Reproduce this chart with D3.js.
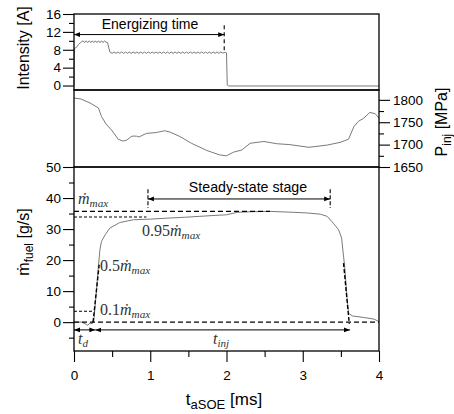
<!DOCTYPE html>
<html>
<head>
<meta charset="utf-8">
<script src="https://cdn.jsdelivr.net/npm/d3@7"></script>
<style>
  body { margin: 0; background: #fff; }
  svg text { font-family: "Liberation Sans", Arial, sans-serif; fill: #000; }
  .trace { fill: none; stroke: #7a7a7a; stroke-width: 1; }
  .frame { fill: none; stroke: #000; stroke-width: 1.3; }
  .math { font-family: "Liberation Serif", "DejaVu Serif", serif !important; fill: #333 !important; }
</style>
</head>
<body>
<script>
// ---- data ----
var xTicks = [0, 1, 2, 3, 4];
var xMinor = [0.5, 1.5, 2.5, 3.5];
var currentTicks = [0, 4, 8, 12, 16];
var currentMinor = [2, 6, 10, 14];
var pressureTicks = [1650, 1700, 1750, 1800];
var pressureMinor = [1675, 1725, 1775];
var flowTicks = [0, 10, 20, 30, 40, 50];
var flowMinor = [-5, 5, 15, 25, 35, 45];

// injector current [ms, A]
var current = [
  [0, 0], [0.005, 8.3], [0.03, 8.5], [0.06, 9.2], [0.10, 9.8],
  [0.12, 10.0], [0.14, 9.6], [0.16, 10.0], [0.18, 9.6], [0.20, 10.0], [0.22, 9.6],
  [0.24, 10.0], [0.26, 9.6], [0.28, 10.0], [0.30, 9.6], [0.32, 10.0], [0.34, 9.6],
  [0.36, 10.0], [0.38, 9.6], [0.40, 10.0], [0.42, 9.7], [0.44, 9.6], [0.47, 7.5],
  [0.500, 7.2], [0.525, 7.5], [0.550, 7.2], [0.575, 7.5], [0.600, 7.2], [0.625, 7.5],
  [0.650, 7.2], [0.675, 7.5], [0.700, 7.2], [0.725, 7.5], [0.750, 7.2], [0.775, 7.5],
  [0.800, 7.2], [0.825, 7.5], [0.850, 7.2], [0.875, 7.5], [0.900, 7.2], [0.925, 7.5],
  [0.950, 7.2], [0.975, 7.5], [1.000, 7.2], [1.025, 7.5], [1.050, 7.2], [1.075, 7.5],
  [1.100, 7.2], [1.125, 7.5], [1.150, 7.2], [1.175, 7.5], [1.200, 7.2], [1.225, 7.5],
  [1.250, 7.2], [1.275, 7.5], [1.300, 7.2], [1.325, 7.5], [1.350, 7.2], [1.375, 7.5],
  [1.400, 7.2], [1.425, 7.5], [1.450, 7.2], [1.475, 7.5], [1.500, 7.2], [1.525, 7.5],
  [1.550, 7.2], [1.575, 7.5], [1.600, 7.2], [1.625, 7.5], [1.650, 7.2], [1.675, 7.5],
  [1.700, 7.2], [1.725, 7.5], [1.750, 7.2], [1.775, 7.5], [1.800, 7.2], [1.825, 7.5],
  [1.850, 7.2], [1.875, 7.5], [1.900, 7.2], [1.925, 7.5], [1.950, 7.3], [1.990, 7.4],
  [2.000, 7.3], [2.010, 0.1], [2.030, -0.1], [4.0, -0.1]
];

// rail pressure [ms, MPa]
var pressure = [
  [0, 1804], [0.09, 1802], [0.21, 1793], [0.32, 1782], [0.36, 1763], [0.42, 1746],
  [0.49, 1733], [0.58, 1712], [0.64, 1708], [0.69, 1710], [0.76, 1719], [0.82, 1719],
  [0.85, 1717], [0.95, 1725], [1.08, 1727], [1.19, 1731], [1.26, 1728], [1.39, 1718],
  [1.54, 1703], [1.74, 1687], [1.91, 1677], [2.0, 1675], [2.09, 1683], [2.2, 1688],
  [2.31, 1703], [2.49, 1707], [2.66, 1702], [2.83, 1700], [3.08, 1694], [3.32, 1699],
  [3.49, 1705], [3.6, 1712], [3.67, 1740], [3.73, 1752], [3.8, 1759], [3.88, 1772],
  [3.95, 1769], [4.0, 1759]
];

// fuel mass flow rate [ms, g/s]
var massFlow = [
  [0, 0], [0.1, 0], [0.15, -0.6], [0.18, -1], [0.21, -0.3], [0.24, -0.5], [0.26, 0.5],
  [0.28, 6], [0.30, 12], [0.32, 18], [0.34, 23.3], [0.36, 26], [0.41, 28.2],
  [0.47, 30.3], [0.6, 32.1], [0.78, 33], [1.0, 33.2], [1.21, 33.5], [1.45, 33.8],
  [1.65, 34.1], [1.85, 34.4], [2.0, 34.6], [2.14, 35.4], [2.35, 35.6], [2.57, 35.7],
  [2.88, 35.4], [3.05, 35.2], [3.23, 34.8], [3.32, 34.1], [3.4, 31.9], [3.47, 29.8],
  [3.51, 27.1], [3.53, 22.3], [3.55, 17.9], [3.58, 8], [3.6, 2.9], [3.65, 2.0],
  [3.8, 1.5], [3.93, 1.0], [4.0, 0.2]
];

var mMax = 35.7;
var m95 = 33.9;
var m10 = 3.5;
var riseFit = [[0.25, 0], [0.33, 18.5]];
var fallFit = [[3.535, 19], [3.61, -0.5]];
var energizingEnd = 1.97;
var steadyStart = 0.97, steadyEnd = 3.36;
var tdEnd = 0.28, tinjEnd = 3.62;

// ---- layout ----
var window_w = 454, window_h = 414;
var left = 74, right = 379;

var x = d3.scaleLinear().domain([0, 4]).range([left, right]);
var yI = d3.scaleLinear().domain([-1, 16]).range([90, 14]);
var yP = d3.scaleLinear().domain([1650, 1822]).range([167, 90]);
var yM = d3.scaleLinear().domain([-9.3, 50]).range([351, 167]);

var svg = d3.select("body").append("svg")
    .attr("width", window_w).attr("height", window_h);

var defs = svg.append("defs");
defs.append("marker")
    .attr("id", "arrow")
    .attr("viewBox", "0 0 10 10")
    .attr("refX", 10).attr("refY", 5)
    .attr("markerWidth", 6).attr("markerHeight", 6)
    .attr("markerUnits", "userSpaceOnUse")
    .attr("orient", "auto-start-reverse")
  .append("path")
    .attr("d", "M0,1 L10,5 L0,9 Z")
    .attr("fill", "#000");

function styleAxis(g) {
  g.select(".domain").remove();
  g.selectAll("text").attr("font-size", 13.5)
    .attr("font-family", "Liberation Sans, Arial, sans-serif");
  g.selectAll("line").attr("stroke", "#000").attr("stroke-width", 1.1);
}

var fmt = d3.format("d");

// axes
svg.append("g").attr("transform", "translate(" + left + ",0)")
    .call(d3.axisLeft(yI).tickValues(currentTicks).tickSize(11).tickPadding(2).tickFormat(fmt))
    .call(styleAxis);
svg.append("g").attr("transform", "translate(" + left + ",0)")
    .call(d3.axisLeft(yI).tickValues(currentMinor).tickSize(5).tickFormat(""))
    .call(styleAxis);

svg.append("g").attr("transform", "translate(" + right + ",0)")
    .call(d3.axisRight(yP).tickValues(pressureTicks).tickSize(11).tickPadding(3).tickFormat(fmt))
    .call(styleAxis);
svg.append("g").attr("transform", "translate(" + right + ",0)")
    .call(d3.axisRight(yP).tickValues(pressureMinor).tickSize(5).tickFormat(""))
    .call(styleAxis);

svg.append("g").attr("transform", "translate(" + left + ",0)")
    .call(d3.axisLeft(yM).tickValues(flowTicks).tickSize(11).tickPadding(2).tickFormat(fmt))
    .call(styleAxis);
svg.append("g").attr("transform", "translate(" + left + ",0)")
    .call(d3.axisLeft(yM).tickValues(flowMinor).tickSize(5).tickFormat(""))
    .call(styleAxis);

svg.append("g").attr("transform", "translate(0," + yM.range()[0] + ")")
    .call(d3.axisBottom(x).tickValues(xTicks).tickSize(11).tickPadding(8).tickFormat(fmt))
    .call(styleAxis);
svg.append("g").attr("transform", "translate(0," + yM.range()[0] + ")")
    .call(d3.axisBottom(x).tickValues(xMinor).tickSize(6).tickFormat(""))
    .call(styleAxis);

// traces
var lineI = d3.line().x(function(d){return x(d[0]);}).y(function(d){return yI(d[1]);});
var lineP = d3.line().x(function(d){return x(d[0]);}).y(function(d){return yP(d[1]);});
var lineM = d3.line().x(function(d){return x(d[0]);}).y(function(d){return yM(d[1]);});

svg.append("path").attr("class", "trace").attr("d", lineI(current));
svg.append("path").attr("class", "trace").attr("d", lineP(pressure));
svg.append("path").attr("class", "trace").attr("d", lineM(massFlow));

// frames
[[yI], [yP], [yM]].forEach(function(s) {
  var r = s[0].range();
  svg.append("rect").attr("class", "frame")
    .attr("x", left).attr("y", r[1])
    .attr("width", right - left).attr("height", r[0] - r[1]);
});

// ---- annotations: top panel ----
svg.append("line")
    .attr("x1", x(energizingEnd)).attr("x2", x(energizingEnd))
    .attr("y1", yI(13.5)).attr("y2", yI(7.4))
    .attr("stroke", "#000").attr("stroke-width", 1.1).attr("stroke-dasharray", "4,3");
svg.append("line")
    .attr("x1", x(0)).attr("x2", x(energizingEnd))
    .attr("y1", yI(11.4)).attr("y2", yI(11.4))
    .attr("stroke", "#000").attr("stroke-width", 1)
    .attr("marker-start", "url(#arrow)").attr("marker-end", "url(#arrow)");
svg.append("text").attr("x", 150).attr("y", 28.5)
    .attr("text-anchor", "middle").attr("font-size", 14)
    .text("Energizing time");

// ---- annotations: bottom panel ----
function hline(v, x0, x1, dash) {
  svg.append("line")
    .attr("x1", x(x0)).attr("x2", x(x1))
    .attr("y1", yM(v)).attr("y2", yM(v))
    .attr("stroke", "#000").attr("stroke-width", 1.1).attr("stroke-dasharray", dash);
}
hline(mMax, 0, 2.57, "5,3");
hline(m95, 0, 0.95, "3,2");
hline(m10, 0, 0.27, "3,2");
hline(0, 0, 4, "5,3");

[riseFit, fallFit].forEach(function(f) {
  svg.append("path").attr("d", lineM(f))
    .attr("fill", "none").attr("stroke", "#000")
    .attr("stroke-width", 1.4).attr("stroke-dasharray", "4,2");
});

[steadyStart, steadyEnd].forEach(function(t) {
  svg.append("line")
    .attr("x1", x(t)).attr("x2", x(t))
    .attr("y1", yM(42.8)).attr("y2", yM(36.8))
    .attr("stroke", "#000").attr("stroke-width", 1.1).attr("stroke-dasharray", "4,2");
});
svg.append("line")
    .attr("x1", x(steadyStart)).attr("x2", x(steadyEnd))
    .attr("y1", yM(39.7)).attr("y2", yM(39.7))
    .attr("stroke", "#000").attr("stroke-width", 1)
    .attr("marker-start", "url(#arrow)").attr("marker-end", "url(#arrow)");
svg.append("text").attr("x", 248).attr("y", 192)
    .attr("text-anchor", "middle").attr("font-size", 14.2)
    .text("Steady-state stage");

svg.append("line")
    .attr("x1", x(0)).attr("x2", x(tdEnd))
    .attr("y1", yM(-2.5)).attr("y2", yM(-2.5))
    .attr("stroke", "#000").attr("stroke-width", 1)
    .attr("marker-start", "url(#arrow)").attr("marker-end", "url(#arrow)");
svg.append("line")
    .attr("x1", x(tdEnd)).attr("x2", x(tinjEnd))
    .attr("y1", yM(-2.5)).attr("y2", yM(-2.5))
    .attr("stroke", "#000").attr("stroke-width", 1)
    .attr("marker-start", "url(#arrow)").attr("marker-end", "url(#arrow)");

function mathLabel(px, py, coef, sub, fs) {
  var t = svg.append("text").attr("class", "math")
    .attr("x", px).attr("y", py).attr("font-size", fs);
  if (coef) t.append("tspan").text(coef);
  t.append("tspan").attr("font-style", "italic").text("\u1E41");
  t.append("tspan").attr("font-style", "italic")
    .attr("font-size", fs * 0.7).attr("dy", 3).text(sub);
}
mathLabel(78, 203.5, "", "max", 16);
mathLabel(142, 236, "0.95", "max", 16);
mathLabel(100, 271, "0.5", "max", 16);
mathLabel(100, 315, "0.1", "max", 16);

function tLabel(px, py, sub) {
  var t = svg.append("text").attr("class", "math")
    .attr("x", px).attr("y", py).attr("font-size", 16).attr("font-style", "italic");
  t.append("tspan").text("t");
  t.append("tspan").attr("font-size", 11).attr("dy", 3).text(sub);
}
tLabel(78, 344, "d");
tLabel(213, 344, "inj");

// ---- axis titles ----
svg.append("text")
    .attr("transform", "translate(29,48) rotate(-90)")
    .attr("text-anchor", "middle").attr("font-size", 16)
    .text("Intensity [A]");

var t2 = svg.append("text")
    .attr("transform", "translate(29,242) rotate(-90)")
    .attr("text-anchor", "middle").attr("font-size", 16);
t2.append("tspan").text("\u1E41");
t2.append("tspan").attr("font-size", 12).attr("dy", 4).text("fuel");
t2.append("tspan").attr("dy", -4).text("  [g/s]");

var t3 = svg.append("text")
    .attr("transform", "translate(447,122) rotate(-90)")
    .attr("text-anchor", "middle").attr("font-size", 16);
t3.append("tspan").text("P");
t3.append("tspan").attr("font-size", 12).attr("dy", 4).text("inj");
t3.append("tspan").attr("dy", -4).text(" [MPa]");

var t4 = svg.append("text")
    .attr("x", 224).attr("y", 405)
    .attr("text-anchor", "middle").attr("font-size", 17);
t4.append("tspan").text("t");
t4.append("tspan").attr("font-size", 13).attr("dy", 4).text("aSOE");
t4.append("tspan").attr("dy", -4).text(" [ms]");
</script>
</body>
</html>
